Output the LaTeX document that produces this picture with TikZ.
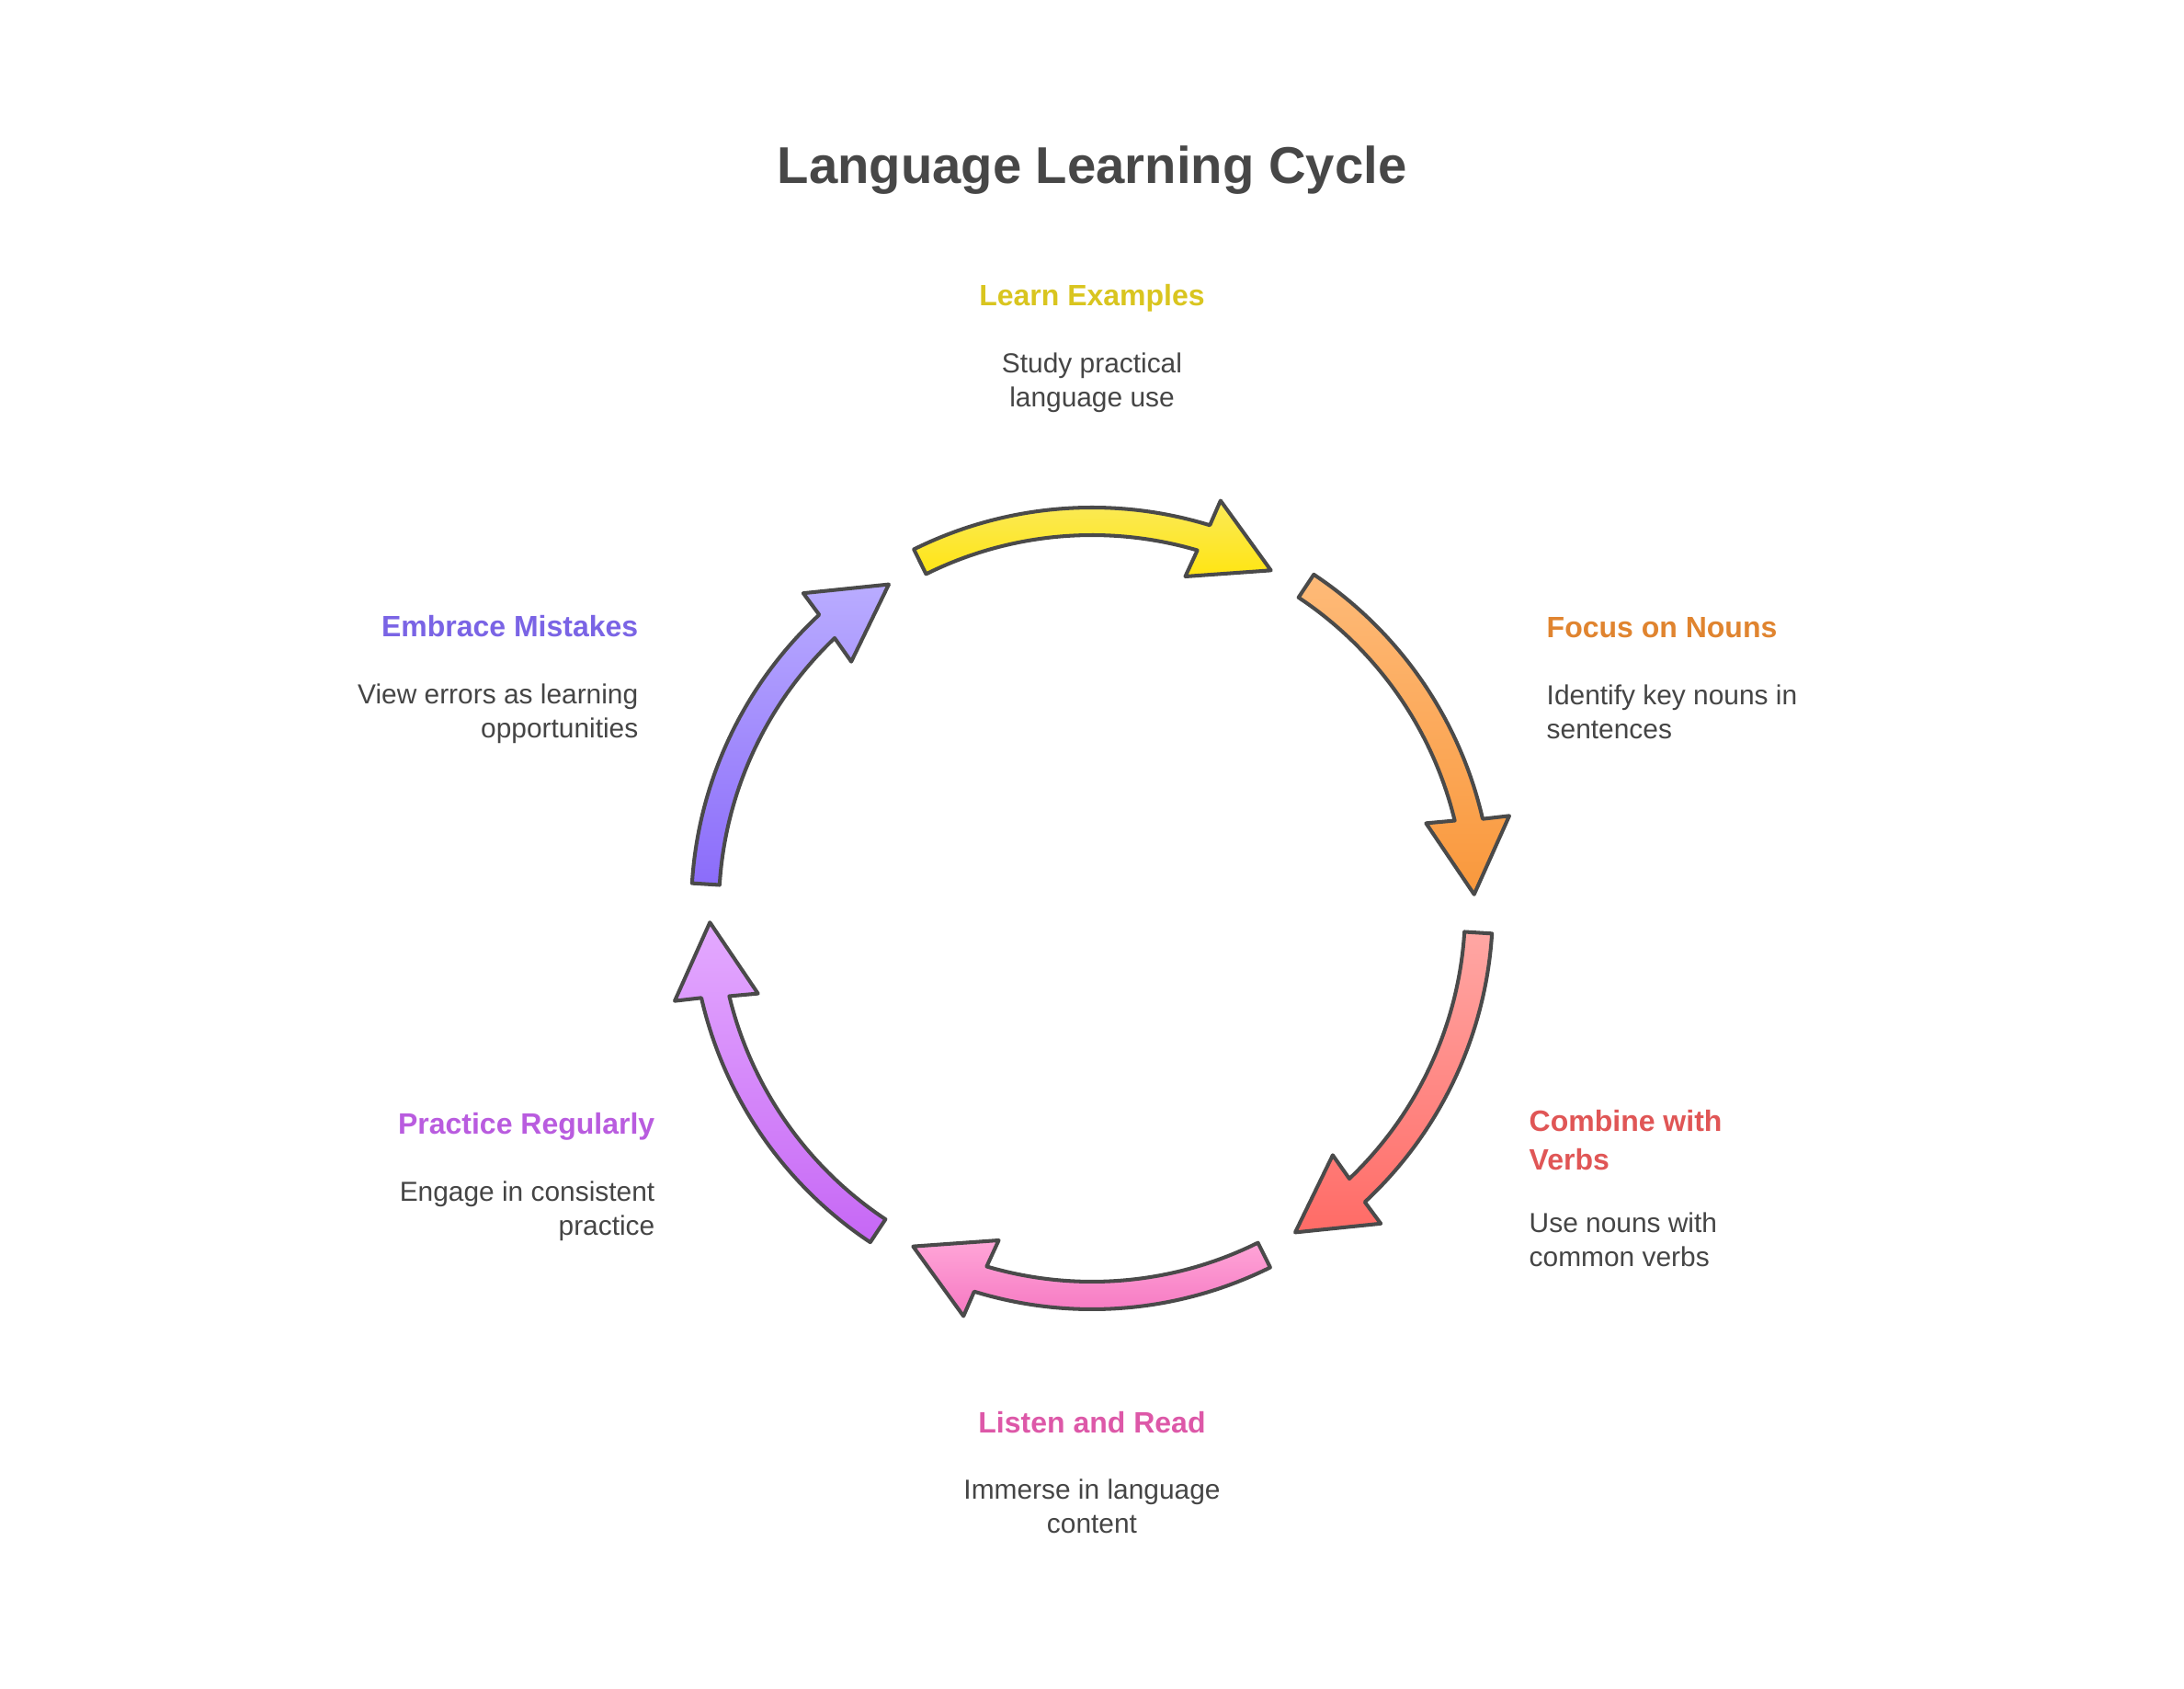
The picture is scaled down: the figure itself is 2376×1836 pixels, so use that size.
\documentclass[tikz,border=0pt]{standalone}
\usepackage{fontspec}
\setmainfont{Liberation Sans}
\usepackage{tikz}
\usetikzlibrary{positioning}

\definecolor{titleGray}{HTML}{474747}
\definecolor{descGray}{HTML}{454545}
\definecolor{lineGray}{HTML}{4A4A4A}
\definecolor{learnCol}{HTML}{D9C51F}
\definecolor{nounsCol}{HTML}{E0842F}
\definecolor{verbsCol}{HTML}{E05656}
\definecolor{listenCol}{HTML}{DD58A8}
\definecolor{practiceCol}{HTML}{B95CDF}
\definecolor{mistakesCol}{HTML}{7A64E5}
\definecolor{ylwTop}{HTML}{FAEA5E}
\definecolor{ylwBot}{HTML}{FFE512}
\definecolor{orgTop}{HTML}{FEBA78}
\definecolor{orgBot}{HTML}{F9983C}
\definecolor{redTop}{HTML}{FFA7A4}
\definecolor{redBot}{HTML}{FF6B66}
\definecolor{pnkTop}{HTML}{FFA6D8}
\definecolor{pnkBot}{HTML}{F574C0}
\definecolor{prpTop}{HTML}{E4AAFF}
\definecolor{prpBot}{HTML}{C667F5}
\definecolor{vioTop}{HTML}{B9ACFF}
\definecolor{vioBot}{HTML}{8B6CFA}

\begin{document}
\begin{tikzpicture}[
        x=0.01cm, y=0.01cm,
        title/.style={font=\fontsize{16}{19}\selectfont\bfseries, text=titleGray, inner sep=0pt},
        head/.style={font=\fontsize{9.1}{12.1}\selectfont\bfseries, inner sep=0pt},
        desc/.style={font=\fontsize{8.5}{10.3}\selectfont, text=descGray, inner sep=0pt},
        cycarrow/.style={draw=lineGray, line width=1.15pt, line join=round}
    ]
%
    \useasboundingbox (0,0) rectangle (2376,1836);
    \fill[white] (0,0) rectangle (2376,1836);
    \coordinate (c) at (1188,848);
%
    % Title
    \node[title, anchor=base] (title) at (1188,1636) {Language Learning Cycle};
%
    % Headings (base = last line)
    \node[head, text=learnCol, anchor=base] (learn) at (1188,1503) {Learn Examples};
    \node[head, text=nounsCol, anchor=base west] (nouns) at (1682,1142) {Focus on Nouns};
    \node[head, text=verbsCol, anchor=base west, align=left] (verbs) at (1663,563) {Combine with\\Verbs};
    \node[head, text=listenCol, anchor=base] (listen) at (1188,278) {Listen and Read};
    \node[head, text=practiceCol, anchor=base east, align=right] (practice) at (713,602) {Practice Regularly};
    \node[head, text=mistakesCol, anchor=base east, align=right] (mistakes) at (695,1143) {Embrace Mistakes};
%
    % Descriptions
    \node[desc, align=center, below=1.09cm of learn.base, anchor=base] (learnTxt) {Study practical\\language use};
    \node[desc, align=left, below=1.09cm of nouns.base west, anchor=base west] (nounsTxt) {Identify key nouns in\\sentences};
    \node[desc, align=left, below=1.04cm of verbs.base west, anchor=base west] (verbsTxt) {Use nouns with\\common verbs};
    \node[desc, align=center, below=1.09cm of listen.base, anchor=base] (listenTxt) {Immerse in language\\content};
    \node[desc, align=right, below=1.09cm of practice.base east, anchor=base east] (practiceTxt) {Engage in consistent\\practice};
    \node[desc, align=right, below=1.09cm of mistakes.base east, anchor=base east] (mistakesTxt) {View errors as learning\\opportunities};
%
    % Cycle arrows
    \foreach \a/\ct/\cb in {0/ylwTop/ylwBot, -60/orgTop/orgBot, -120/redTop/redBot,
                            -180/pnkTop/pnkBot, -240/prpTop/prpBot, -300/vioTop/vioBot}
      \draw[cycarrow, top color=\ct, bottom color=\cb, shift={(c)}]
        ({\a+116.4}:436) arc[start angle=\a+116.4, end angle=\a+72.9, radius=436]
        -- ({\a+72.5}:465) -- ({\a+62.1}:416) -- ({\a+74.3}:375) -- ({\a+73.6}:406)
        arc[start angle=\a+73.6, end angle=\a+116.4, radius=406] -- cycle;
%
\end{tikzpicture}
\end{document}
